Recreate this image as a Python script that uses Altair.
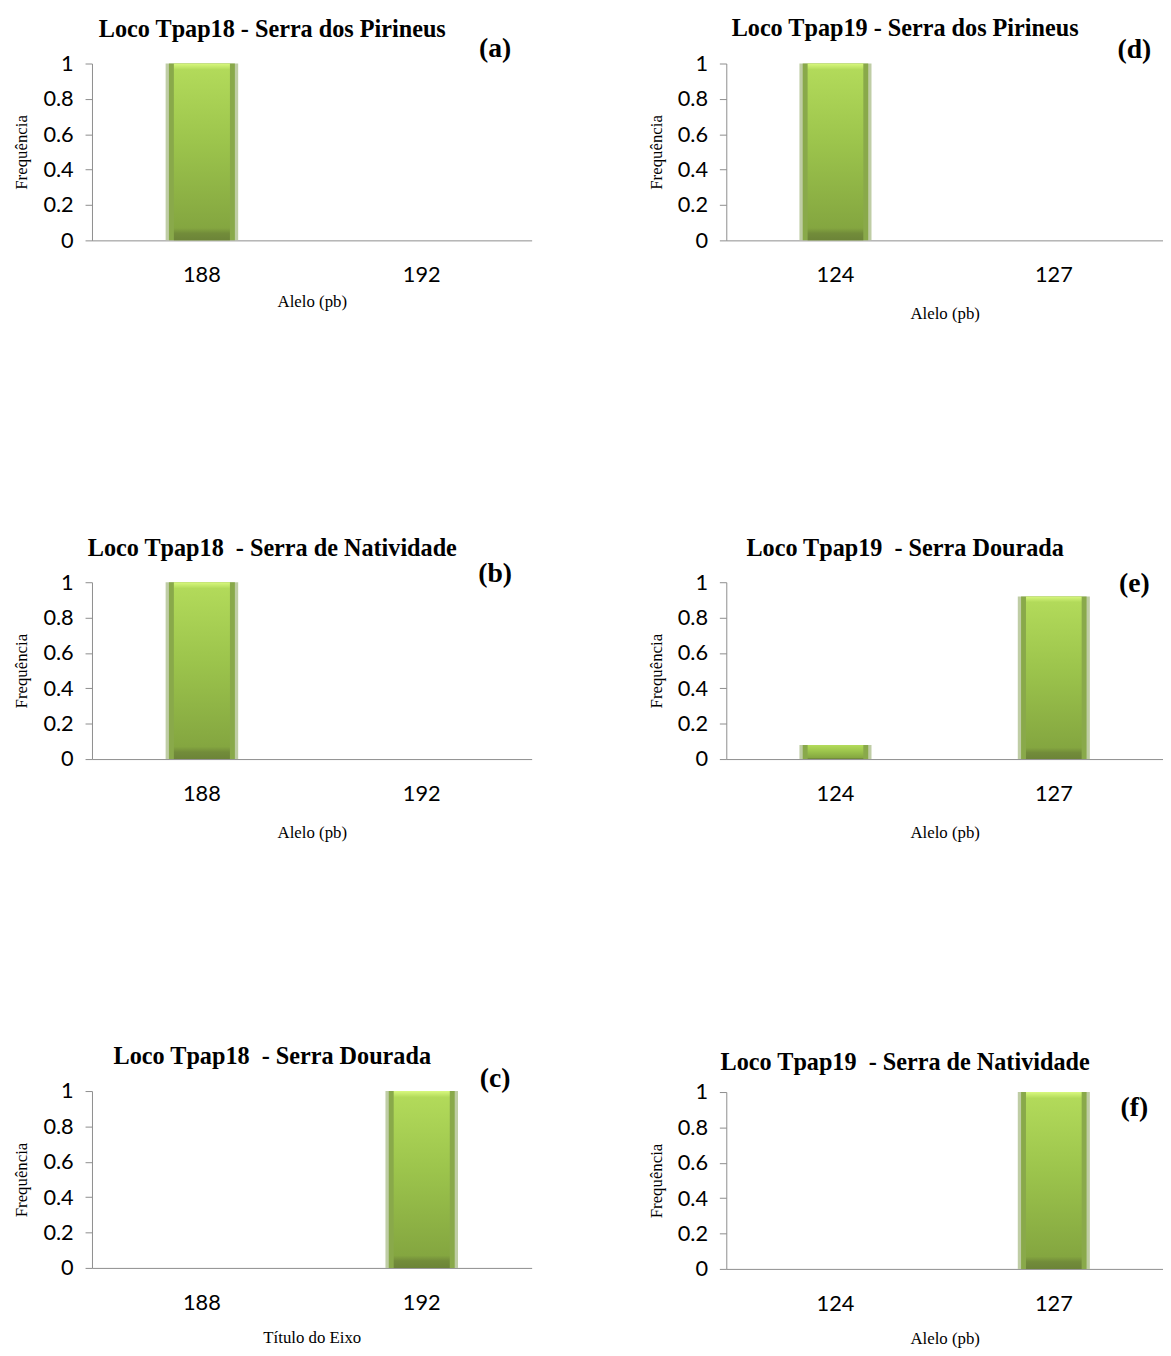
import altair as alt
import pandas as pd

# ---------------- data ----------------
alleles_18 = ["188", "192"]
alleles_19 = ["124", "127"]

freq_a = [1.0, 0.0]    # Tpap18 - Serra dos Pirineus
freq_b = [1.0, 0.0]    # Tpap18 - Serra de Natividade
freq_c = [0.0, 1.0]    # Tpap18 - Serra Dourada
freq_d = [1.0, 0.0]    # Tpap19 - Serra dos Pirineus
freq_e = [0.08, 0.92]  # Tpap19 - Serra Dourada
freq_f = [0.0, 1.0]    # Tpap19 - Serra de Natividade

titles = [
    "Loco Tpap18 - Serra dos Pirineus",
    "Loco Tpap18\u00a0 - Serra de Natividade",
    "Loco Tpap18\u00a0 - Serra Dourada",
    "Loco Tpap19 - Serra dos Pirineus",
    "Loco Tpap19\u00a0 - Serra Dourada",
    "Loco Tpap19\u00a0 - Serra de Natividade",
]
panel_labels = ["(a)", "(b)", "(c)", "(d)", "(e)", "(f)"]
x_titles = ["Alelo (pb)", "Alelo (pb)", "Título do Eixo",
            "Alelo (pb)", "Alelo (pb)", "Alelo (pb)"]
y_ticks = [0, 0.2, 0.4, 0.6, 0.8, 1]

# ---------------- style ----------------
W_LEFT, W_RIGHT, H = 445, 442, 179
SERIF = "Liberation Serif"
SANS = "Lato"
GRAY = "#8c8c8c"

gradient = {
    "gradient": "linear",
    "x1": 0, "y1": 0, "x2": 0, "y2": 1,
    "stops": [
        {"offset": 0.0, "color": "#d8f87e"},
        {"offset": 0.035, "color": "#b2da5a"},
        {"offset": 0.45, "color": "#9cc44c"},
        {"offset": 0.93, "color": "#84a640"},
        {"offset": 0.96, "color": "#728c3a"},
        {"offset": 1.0, "color": "#6c8438"},
    ],
}

# per panel: label position (px from axis, px from plot top), title offset, x-title padding
label_pos = [(408, -15), (408, -8), (408, -12), (413, -14), (413, 2), (413, 16)]
title_off = [-8, -1, -4, -6, 9, 6]
xtitle_pad = [8, 20, 16, 20, 20, 16]
widths = [W_LEFT] * 3 + [W_RIGHT] * 3


def panel(cats, freqs, title, label, xtitle, lpos, toff, xpad, w):
    df = pd.DataFrame({"alelo": cats, "freq": freqs})
    x = alt.X(
        "alelo:N", sort=cats,
        scale=alt.Scale(paddingInner=0, paddingOuter=0),
        axis=alt.Axis(title=xtitle, labelAngle=0, ticks=False, tickSize=0,
                      labelPadding=25, titlePadding=xpad,
                      domainColor=GRAY, labelFont=SANS, labelFontSize=22,
                      labelColor="#000", titleFont=SERIF, titleFontSize=17,
                      titleFontWeight="normal", titleColor="#000"),
    )
    y = alt.Y(
        "freq:Q",
        scale=alt.Scale(domain=[0, 1]),
        axis=alt.Axis(title="Frequência", values=y_ticks, format="~g",
                      grid=False, tickSize=7, tickColor=GRAY, domainColor=GRAY,
                      labelPadding=12, labelFont=SANS, labelFontSize=22,
                      labelColor="#000", titleFont=SERIF, titleFontSize=17,
                      titleFontWeight="normal", titleColor="#000",
                      minExtent=50, maxExtent=50, titlePadding=12),
    )
    base = alt.Chart(df)
    halo = base.mark_bar(width=alt.RelativeBandSize(0.33), color="#bccaa0",
                         opacity=0.95).encode(x=x, y=y)
    edge = base.mark_bar(width=alt.RelativeBandSize(0.30),
                         color="#89a94a").encode(x=x, y=y)
    body = base.mark_bar(width=alt.RelativeBandSize(0.255),
                         color=gradient).encode(x=x, y=y)
    lab = alt.Chart(pd.DataFrame({"t": [label]})).mark_text(
        font=SERIF, fontWeight="bold", fontSize=28, align="center",
        baseline="middle", color="#000",
    ).encode(text="t:N", x=alt.value(lpos[0]), y=alt.value(lpos[1]))
    return alt.layer(halo, edge, body, lab).properties(
        width=w, height=H,
        title=alt.TitleParams(title, font=SERIF, fontSize=24.5, fontWeight="bold",
                              anchor="middle", frame="bounds", color="#000",
                              offset=toff),
    )


freqs_all = [freq_a, freq_b, freq_c, freq_d, freq_e, freq_f]
cats_all = [alleles_18] * 3 + [alleles_19] * 3
panels = [panel(cats_all[i], freqs_all[i], titles[i], panel_labels[i],
                x_titles[i], label_pos[i], title_off[i], xtitle_pad[i], widths[i])
          for i in range(6)]

left = alt.vconcat(panels[0], alt.vconcat(panels[1], panels[2], spacing=206),
                   spacing=229)
right = alt.vconcat(panels[3], alt.vconcat(panels[4], panels[5], spacing=212),
                    spacing=217)

chart = alt.hconcat(left, right, spacing=117).properties(
    padding={"left": 5, "top": 0, "right": 0, "bottom": 5}
).configure_view(stroke=None)

chart.save("out.html", embed_options={"renderer": "svg", "actions": False})
